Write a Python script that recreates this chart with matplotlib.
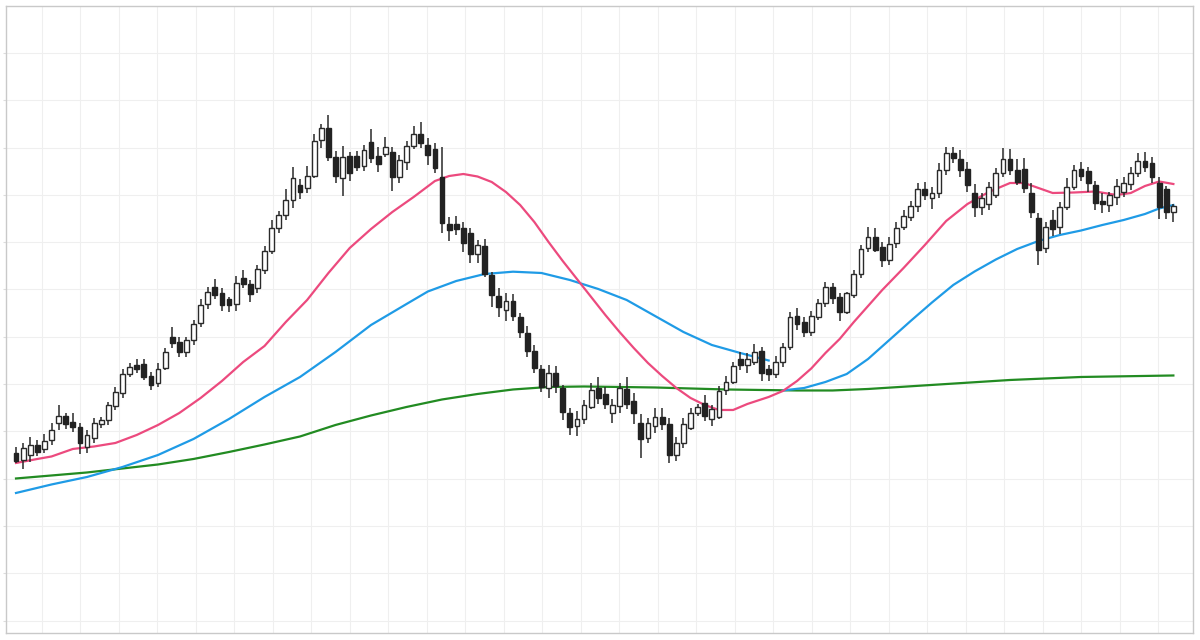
import numpy as np
import matplotlib
matplotlib.use("Agg")
import matplotlib.pyplot as plt

# daily OHLC, one entry per candle
opens = [186.7, 179.5, 185.0, 195.3, 191.0, 200.0, 216.7, 223.7, 218.3, 212.7,
         192.7, 201.7, 215.5, 220.0, 234.0, 247.0, 266.0, 275.0, 275.7, 264.0,
         257.3, 271.7, 303.3, 297.7, 288.3, 300.0, 316.7, 336.0, 353.3, 346.7,
         341.2, 335.7, 361.7, 356.3, 351.7, 370.0, 389.0, 411.7, 425.0, 440.0,
         455.0, 451.7, 464.0, 499.7, 512.0, 483.2, 462.2, 484.3, 484.3, 474.3,
         498.3, 484.3, 486.5, 487.7, 463.3, 478.3, 494.5, 506.3, 495.0, 491.2,
         463.3, 415.5, 416.0, 411.7, 407.3, 385.5, 394.0, 364.5, 344.0, 330.0,
         338.7, 322.7, 307.3, 289.3, 271.2, 252.2, 267.0, 251.7, 226.7, 213.5,
         220.7, 233.3, 252.3, 246.0, 226.7, 234.0, 250.7, 239.3, 216.7, 201.7,
         214.0, 222.7, 216.0, 185.0, 197.3, 211.7, 226.7, 237.3, 220.7, 223.3,
         250.0, 258.3, 280.7, 275.0, 278.3, 289.3, 270.7, 266.0, 278.3, 292.7,
         324.0, 318.3, 308.3, 323.3, 337.3, 352.7, 342.7, 328.3, 345.0, 365.5,
         391.7, 403.3, 393.3, 380.0, 396.7, 412.7, 423.3, 434.0, 450.7, 441.7,
         446.7, 470.0, 486.7, 480.7, 470.7, 446.7, 433.3, 436.0, 445.0, 467.3,
         480.7, 470.0, 470.7, 447.3, 421.7, 391.7, 420.0, 413.3, 433.3, 453.3,
         470.7, 469.3, 455.0, 439.3, 435.0, 443.3, 448.3, 456.0, 467.3, 479.3,
         477.3, 456.7, 450.7, 428.3]
highs = [193.0, 197.3, 202.7, 199.7, 206.0, 217.3, 235.0, 227.3, 226.7, 217.3,
         210.0, 221.7, 223.3, 238.3, 253.3, 270.7, 277.3, 280.7, 280.7, 268.3,
         276.7, 291.7, 313.3, 302.7, 302.7, 320.0, 340.7, 353.3, 361.0, 352.0,
         343.3, 364.0, 370.3, 360.0, 375.3, 394.0, 420.0, 429.3, 451.3, 473.3,
         461.0, 474.3, 505.7, 515.7, 525.0, 489.0, 494.3, 488.3, 489.0, 495.0,
         511.0, 493.3, 503.3, 493.3, 485.0, 499.3, 514.0, 518.3, 502.0, 496.7,
         493.3, 423.3, 424.0, 417.5, 411.7, 400.0, 400.5, 368.3, 351.7, 347.3,
         346.0, 326.7, 314.0, 295.0, 275.0, 274.5, 274.0, 255.0, 231.7, 229.0,
         240.0, 257.0, 262.7, 253.3, 240.7, 256.7, 263.3, 246.7, 226.0, 221.7,
         231.7, 231.7, 221.7, 203.3, 221.7, 231.7, 236.0, 245.0, 235.0, 254.0,
         264.0, 278.3, 288.3, 286.7, 296.0, 292.7, 275.0, 284.0, 297.3, 328.3,
         331.7, 323.3, 329.3, 340.7, 358.3, 357.3, 347.3, 348.3, 370.0, 395.0,
         413.3, 411.7, 398.3, 403.3, 418.3, 430.0, 439.3, 456.7, 458.3, 453.3,
         476.7, 493.3, 493.3, 490.0, 478.3, 456.0, 446.7, 458.3, 471.7, 491.7,
         490.7, 480.7, 481.7, 456.7, 426.7, 418.3, 430.0, 438.3, 461.7, 475.0,
         478.3, 473.3, 459.3, 447.3, 448.3, 460.7, 463.3, 472.7, 487.3, 488.3,
         483.3, 463.3, 454.0, 436.0]
lows = [176.7, 170.7, 178.3, 183.7, 187.0, 195.0, 210.0, 210.7, 208.3, 186.0,
        186.7, 196.7, 211.7, 215.0, 230.0, 241.7, 263.3, 266.7, 260.0, 250.0,
        253.3, 270.0, 291.7, 283.3, 283.3, 295.0, 313.3, 330.7, 341.0, 329.0,
        328.3, 329.0, 352.0, 337.7, 346.7, 366.3, 386.0, 406.7, 419.5, 431.7,
        441.0, 446.7, 461.7, 492.3, 479.0, 456.7, 444.3, 459.0, 469.0, 469.0,
        476.7, 468.3, 483.3, 449.0, 457.0, 470.0, 490.7, 492.0, 475.0, 466.7,
        406.7, 399.0, 405.0, 388.3, 376.7, 376.7, 363.3, 333.3, 323.3, 319.3,
        319.3, 301.7, 283.0, 266.7, 248.3, 241.7, 246.7, 220.0, 204.5, 204.0,
        216.0, 231.3, 236.0, 230.7, 216.7, 227.3, 230.7, 216.0, 181.7, 196.7,
        207.3, 210.0, 176.7, 179.3, 191.7, 210.0, 224.0, 219.3, 214.0, 220.7,
        245.0, 256.0, 270.0, 267.3, 275.0, 259.3, 259.3, 261.7, 273.3, 290.0,
        310.0, 302.7, 304.0, 320.0, 332.7, 336.0, 319.3, 326.0, 341.7, 361.7,
        388.3, 388.3, 373.3, 375.0, 391.7, 410.0, 419.3, 428.3, 440.0, 430.7,
        441.7, 465.0, 477.3, 463.3, 448.3, 422.7, 425.0, 430.0, 441.7, 463.3,
        465.0, 455.0, 446.7, 421.7, 375.0, 386.7, 404.0, 406.0, 430.0, 450.0,
        459.3, 448.3, 430.0, 427.3, 428.3, 435.0, 443.3, 450.0, 463.3, 468.3,
        456.7, 420.7, 420.7, 418.3]
closes = [179.3, 191.7, 195.0, 188.3, 199.3, 210.0, 224.2, 215.8, 213.3, 196.7,
          204.7, 216.7, 220.3, 234.5, 248.0, 266.0, 273.3, 271.0, 262.5, 255.0,
          270.8, 287.7, 296.7, 288.3, 299.7, 316.0, 335.0, 347.5, 345.0, 335.3,
          335.0, 356.7, 356.0, 345.7, 370.7, 389.3, 411.7, 424.5, 440.3, 461.7,
          447.5, 464.0, 499.2, 512.0, 483.3, 464.0, 483.3, 466.7, 473.3, 490.0,
          481.7, 476.0, 493.3, 463.3, 479.7, 494.0, 506.2, 496.7, 485.0, 472.5,
          416.7, 409.7, 410.5, 397.3, 386.0, 394.5, 366.0, 345.0, 332.7, 338.7,
          323.7, 308.3, 289.3, 271.7, 253.3, 267.3, 253.7, 228.3, 213.3, 220.7,
          235.0, 250.3, 241.7, 236.0, 235.0, 251.7, 236.0, 226.7, 200.7, 216.7,
          222.7, 216.0, 185.0, 197.3, 216.0, 227.3, 232.7, 224.0, 230.7, 249.3,
          258.3, 274.0, 275.0, 280.7, 288.3, 266.7, 266.0, 278.3, 292.7, 323.3,
          316.0, 308.3, 324.0, 337.3, 352.7, 341.7, 328.3, 346.7, 366.0, 390.7,
          403.3, 390.0, 380.0, 396.0, 412.3, 424.0, 434.0, 450.7, 445.0, 446.7,
          470.0, 486.7, 481.7, 470.0, 455.0, 432.7, 441.7, 453.3, 467.3, 480.7,
          470.0, 458.3, 451.7, 428.3, 390.0, 413.3, 410.7, 433.3, 452.7, 470.0,
          464.0, 457.3, 437.3, 436.0, 445.0, 454.0, 457.3, 467.3, 479.3, 472.7,
          462.7, 433.3, 428.3, 434.0]

ma_fast_idx = [0, 3, 5, 8, 11, 14, 17, 20, 23, 26, 29, 32, 35, 38, 41, 44, 47, 50,
               53, 56, 59, 61, 63, 65, 67, 69, 71, 73, 75, 77, 79, 81, 83, 85, 87,
               89, 91, 93, 95, 97, 99, 101, 103, 106, 108, 110, 112, 114, 116,
               118, 120, 122, 125, 128, 131, 134, 137, 140, 142, 144, 146, 149,
               152, 155, 157, 159, 161, 163]
ma_fast = [177, 181, 183.5, 191, 193.5, 197, 205, 215, 227, 242, 259, 278, 294,
           318, 340, 367, 392, 411, 428, 443, 459, 464, 466, 463.5, 458, 448,
           435, 418, 398, 379, 361, 343, 325, 308, 292, 277, 264, 252, 242,
           235, 230, 230, 236, 243, 249, 259, 271.5, 287, 301, 318, 334, 350,
           372, 395, 419, 436, 448, 457, 457, 452, 447, 447.5, 448.5, 445, 447,
           454, 458.5, 456]

ma_mid_idx = [0, 5, 10, 15, 20, 25, 30, 35, 40, 45, 50, 55, 58, 62, 66, 70, 74,
              78, 82, 86, 90, 94, 98, 102, 106, 107, 108, 111, 114, 117, 120,
              123, 126, 129, 132, 135, 138, 141, 144, 147, 150, 153, 156, 159,
              161, 163]
ma_mid = [147, 155.5, 163, 173, 185, 201, 221, 243, 263, 288, 315, 336, 348.5,
          359, 366, 368.3, 367, 360, 351, 340, 324, 308, 295, 287, 279.5,
          np.nan, 249.5, 252, 258, 266, 281, 300, 319, 337.5, 355, 368.5,
          380.5, 391, 399, 405, 409.5, 415, 420, 426, 431.5, 435]

ma_slow_idx = [0, 10, 20, 25, 30, 35, 40, 45, 50, 55, 60, 65, 70, 75, 80, 90,
               100, 110, 115, 120, 130, 140, 150, 163]
ma_slow = [161.5, 167.5, 175.5, 181, 188, 195.5, 203.5, 215, 224.5, 233, 240.5,
           246, 250.5, 253, 253.5, 252.5, 250.5, 249.5, 249.5, 251, 255.5, 260,
           263, 264.5]

o = np.array(opens)
h = np.array(highs)
l = np.array(lows)
c = np.array(closes)
x = np.arange(len(o))
up = c >= o

fig = plt.figure(figsize=(12, 6.4), dpi=100)
ax = fig.add_axes([0.005, 0.011, 0.9892, 0.9796])

ax.plot(ma_slow_idx, ma_slow, color='#228b22', linewidth=1.6, zorder=2)
ax.plot(ma_mid_idx, ma_mid, color='#1f9be6', linewidth=1.6, zorder=2)
ax.plot(ma_fast_idx, ma_fast, color='#ec4a7e', linewidth=1.6, zorder=2)

ax.vlines(x, l, h, color='#2a2a2a', linewidth=1.1, zorder=3)
body_lo = np.minimum(o, c)
body_h = np.abs(c - o)
ax.bar(x[up], body_h[up], bottom=body_lo[up], width=0.68,
       color='white', edgecolor='#2a2a2a', linewidth=1.0, zorder=4)
ax.bar(x[~up], body_h[~up], bottom=body_lo[~up], width=0.68,
       color='#222222', edgecolor='#222222', linewidth=1.0, zorder=4)

ax.set_xlim(-1.41, 165.77)
ax.set_ylim(7, 634)
ax.set_xticks(np.arange(3.66, 166, 5.42))
ax.set_yticks(np.arange(19.4, 634, 47.3))
ax.tick_params(axis='y', length=2, color='#dddddd', labelleft=False)
ax.tick_params(axis='x', length=0, labelbottom=False)
ax.grid(True, color='#efefef', linewidth=0.8)
ax.set_axisbelow(True)
for s in ax.spines.values():
    s.set_color('#c9c9c9')
    s.set_linewidth(1.0)

plt.savefig('out.png', dpi=100, facecolor='white')
